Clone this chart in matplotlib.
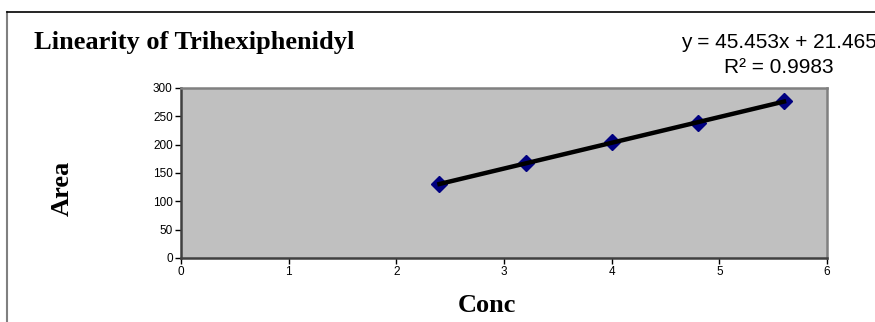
import numpy as np
import matplotlib
matplotlib.use("Agg")
import matplotlib.pyplot as plt
from matplotlib.lines import Line2D

# concentration vs peak area
conc = [2.4, 3.2, 4.0, 4.8, 5.6]
area = [130, 168, 204, 238, 277]
slope, intercept = 45.453, 21.465
eq_lines = ["y = 45.453x + 21.465", "R² = 0.9983"]

fig = plt.figure(figsize=(8.75, 3.22), dpi=100)
ax = fig.add_axes([0.2069, 0.1988, 0.7383, 0.528])
ax.set_facecolor("#C0C0C0")

# trend line
xt = np.array([conc[0], conc[-1]])
ax.plot(xt, slope * xt + intercept, color="black", lw=3.2, zorder=3)
ax.plot(conc, area, ls="none", marker="D", ms=8.5, color="#000080", zorder=2)

ax.set_xlim(0, 6)
ax.set_ylim(0, 300)
ax.set_xticks(range(0, 7))
ax.set_yticks(range(0, 301, 50))
ax.tick_params(direction="out", length=4, width=1, labelsize=8.5, pad=2, colors="black")
for lab in ax.get_xticklabels() + ax.get_yticklabels():
    lab.set_family("Liberation Sans")

for s in ["left", "bottom"]:
    ax.spines[s].set_color("#404040")
    ax.spines[s].set_linewidth(1.8)
for s in ["top", "right"]:
    ax.spines[s].set_color("#808080")
    ax.spines[s].set_linewidth(1.8)

serif = dict(family="Liberation Serif", weight="bold", fontsize=19)
fig.text(34 / 875, 1 - 43 / 322, "Linearity of Trihexiphenidyl", ha="left", va="center", **serif)
fig.text(62 / 875, 1 - 188 / 322, "Area", rotation=90, ha="center", va="center", **serif)
fig.text(487 / 875, 1 - 305 / 322, "Conc", ha="center", va="center", **serif)
fig.text(779 / 875, 1 - 48 / 322, eq_lines[0], ha="center", va="baseline",
         family="Liberation Sans", fontsize=15)
fig.text(779 / 875, 1 - 73 / 322, eq_lines[1], ha="center", va="baseline",
         family="Liberation Sans", fontsize=15)

# outer chart frame
fig.add_artist(Line2D([7 / 875, 7 / 875], [0, 1 - 12 / 322], transform=fig.transFigure,
                      color="#808080", lw=1.5))
fig.add_artist(Line2D([7 / 875, 1], [1 - 12 / 322, 1 - 12 / 322], transform=fig.transFigure,
                      color="black", lw=1.2))

fig.savefig("out.png", dpi=100)
